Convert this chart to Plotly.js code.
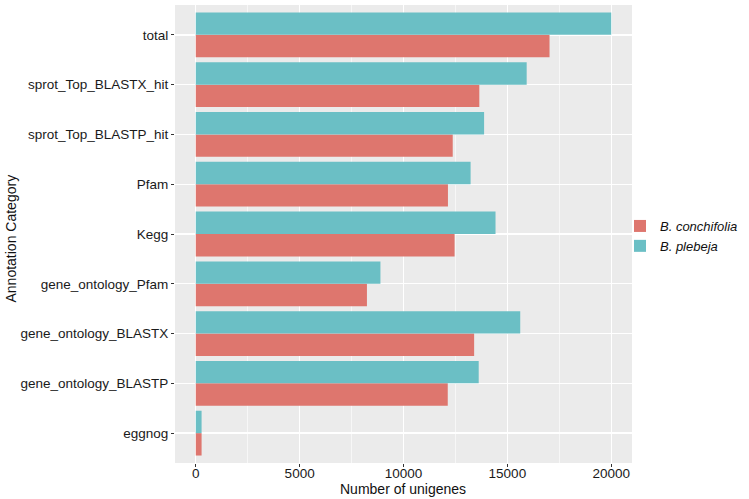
<!DOCTYPE html>
<html>
<head>
<meta charset="utf-8">
<script src="https://cdn.plot.ly/plotly-3.0.1.min.js"></script>
<style>html,body{margin:0;padding:0;background:#fff;}#chart{width:749px;height:499px;}</style>
</head>
<body>
<div id="chart"></div>
<script>
// Categories listed bottom-to-top as drawn
const categories = ["eggnog", "gene_ontology_BLASTP", "gene_ontology_BLASTX", "gene_ontology_Pfam", "Kegg", "Pfam", "sprot_Top_BLASTP_hit", "sprot_Top_BLASTX_hit", "total"];
const conchifolia = [280, 12130, 13400, 8240, 12460, 12140, 12370, 13650, 17030];
const plebeja     = [280, 13620, 15620, 8890, 14430, 13230, 13880, 15930, 20000];
const seriesNames = ["B. conchifolia", "B. plebeja"];
const xTicks = [0, 5000, 10000, 15000, 20000];
const xTickText = ["0", "5000", "10000", "15000", "20000"];
const xMinor = [2500, 7500, 12500, 17500];
const xTitle = "Number of unigenes";
const yTitle = "Annotation Category";

const FONT = "Liberation Sans, Arial, Helvetica, sans-serif";

const traces = [
  {type: "bar", orientation: "h", y: categories, x: conchifolia, name: seriesNames[0],
   marker: {color: "#DE766E", line: {width: 0}}, hoverinfo: "x+y"},
  {type: "bar", orientation: "h", y: categories, x: plebeja, name: seriesNames[1],
   marker: {color: "#6BBFC5", line: {width: 0}}, hoverinfo: "x+y"}
];

const layout = {
  width: 749, height: 499,
  margin: {l: 175, r: 117, t: 5, b: 36, pad: 0},
  paper_bgcolor: "#ffffff",
  plot_bgcolor: "#EBEBEB",
  barmode: "group", bargap: 0.1, bargroupgap: 0,
  font: {family: FONT, color: "#1a1a1a"},
  showlegend: true,
  legend: {xref: "paper", yref: "paper", x: 1 + (620 - 632) / 457, xanchor: "left", y: 0.5 + (234 - 236) / 458, yanchor: "middle",
           font: {family: FONT, size: 13, style: "italic", color: "#111"},
           traceorder: "normal", bgcolor: "rgba(0,0,0,0)", itemwidth: 30, tracegroupgap: 0, borderwidth: 0},
  xaxis: {
    range: [-1000, 21000], tickmode: "array", tickvals: xTicks, ticktext: xTickText,
    showgrid: true, gridcolor: "#ffffff", gridwidth: 1.3, zeroline: false, showline: false,
    ticks: "outside", ticklen: 3, tickwidth: 1, tickcolor: "#333333", ticklabelstandoff: -5,
    tickfont: {family: FONT, size: 13.5, color: "#1a1a1a"},
    minor: {tickmode: "array", tickvals: xMinor, showgrid: true, gridcolor: "#ffffff", gridwidth: 0.6, ticks: ""},
    automargin: false,
    fixedrange: true
  },
  yaxis: {
    type: "category", categoryorder: "array", categoryarray: categories,
    range: [-0.6, 8.6],
    showgrid: true, gridcolor: "#ffffff", gridwidth: 1.3, zeroline: false, showline: false,
    ticks: "outside", ticklen: 3, tickwidth: 1, tickcolor: "#333333",
    tickfont: {family: FONT, size: 13.5, color: "#1a1a1a"},
    automargin: false,
    fixedrange: true
  },
  annotations: [
    {text: xTitle, xref: "paper", yref: "paper", x: (403 - 175) / 457, y: -(489 - 463) / 458,
     xanchor: "center", yanchor: "middle", showarrow: false,
     font: {family: FONT, size: 14, color: "#111"}},
    {text: yTitle, xref: "paper", yref: "paper", x: (10.5 - 175) / 457, y: 0.5 + (229 - 234) / 458,
     xanchor: "center", yanchor: "middle", textangle: -90, showarrow: false,
     font: {family: FONT, size: 14, color: "#111"}}
  ]
};

Plotly.newPlot("chart", traces, layout, {displayModeBar: false, staticPlot: true});
</script>
</body>
</html>
